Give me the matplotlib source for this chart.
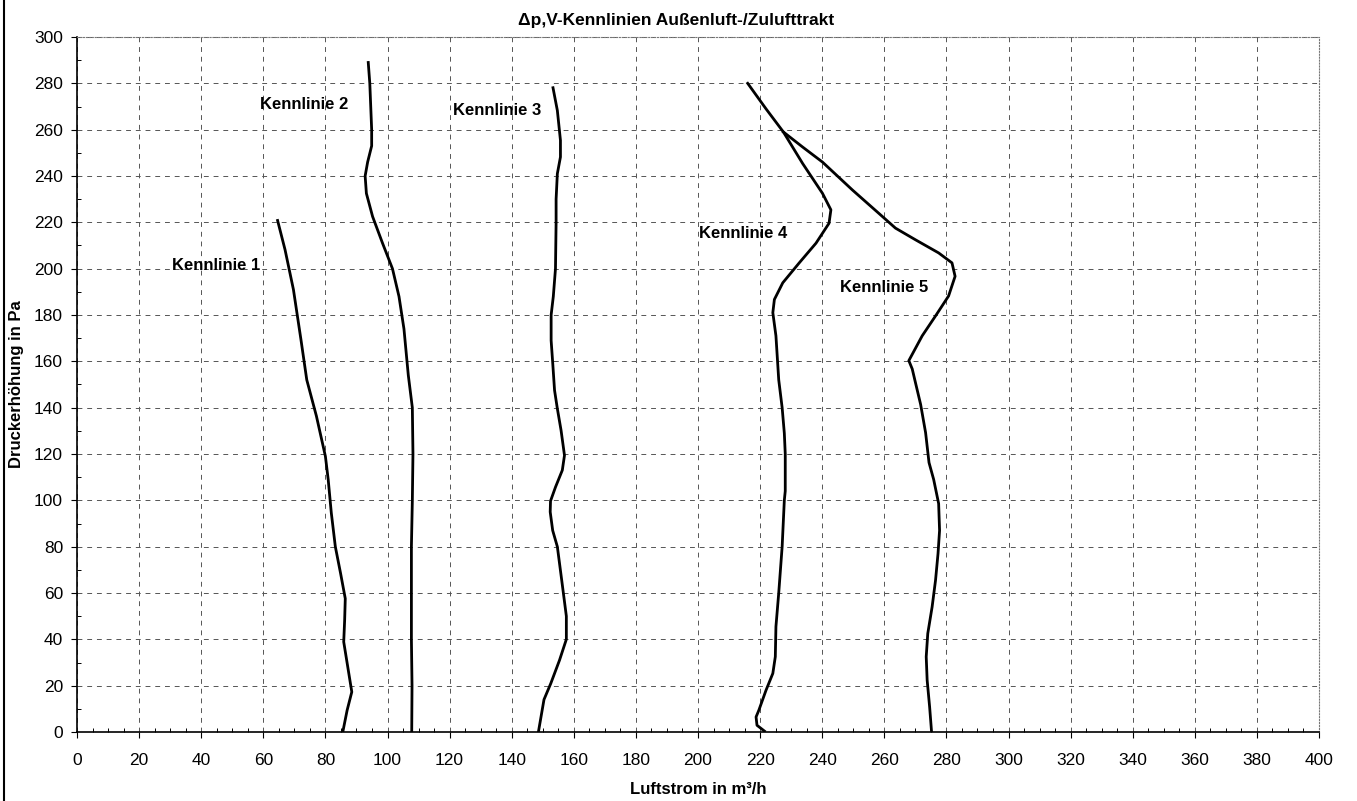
import numpy as np
import matplotlib.pyplot as plt
from matplotlib.lines import Line2D
from matplotlib.ticker import MultipleLocator

plt.rcParams['font.family'] = ['Liberation Sans', 'DejaVu Sans']

# Kennlinien (Luftstrom in m3/h, Druckerhoehung in Pa)
k1_v = [64.6, 67.0, 69.7, 72.1, 74.0, 77.1, 80.0, 80.9, 81.9, 83.2, 84.9, 86.4,
        86.2, 85.9, 87.2, 88.5, 87.0, 85.6]
k1_p = [220.8, 208.2, 191.0, 169.6, 152.0, 136.4, 119.0, 109.0, 94.6, 80.0, 68.4,
        57.6, 48.3, 38.9, 28.1, 17.3, 9.4, 0.0]

k2_v = [93.8, 94.3, 94.9, 94.9, 93.6, 92.8, 93.2, 95.2, 98.4, 101.6, 103.7, 105.3,
        106.7, 108.0, 108.2, 108.0, 107.7, 107.7, 107.7, 107.9, 107.8]
k2_p = [289.0, 280.0, 260.0, 253.0, 246.0, 240.0, 232.5, 222.5, 211.0, 200.0, 188.0,
        174.0, 154.0, 140.0, 120.0, 100.0, 80.0, 60.0, 40.0, 20.0, 0.0]

k3_v = [153.3, 154.7, 155.7, 155.7, 154.7, 154.3, 154.3, 154.1, 153.4, 152.7, 152.7,
        153.2, 153.8, 154.7, 155.9, 157.0, 156.3, 154.1, 152.5, 152.4, 153.2, 154.7,
        156.1, 157.6, 157.6, 155.4, 152.6, 150.4, 148.6]
k3_p = [278.1, 268.3, 255.4, 248.2, 241.0, 230.0, 220.0, 200.0, 188.0, 180.0, 169.0,
        159.5, 147.5, 139.6, 130.2, 119.4, 113.0, 105.7, 99.7, 95.0, 87.0, 80.0,
        65.6, 50.0, 40.0, 31.0, 21.0, 14.0, 0.0]

k4_v = [216.0, 221.9, 227.5, 233.7, 240.1, 242.8, 242.2, 238.0, 232.6, 227.3, 224.6,
        224.1, 225.1, 226.0, 227.1, 227.8, 228.1, 228.1, 227.8, 227.1, 226.0, 225.1,
        224.9, 224.1, 221.9, 219.6, 218.7, 219.0, 221.4]
k4_p = [280.0, 269.0, 259.0, 245.4, 232.5, 225.4, 219.6, 211.0, 202.5, 193.9, 186.7,
        181.0, 171.0, 152.0, 140.0, 129.0, 120.0, 104.0, 100.0, 80.0, 60.0, 45.5,
        32.5, 25.3, 18.0, 9.4, 6.5, 2.9, 0.4]

k5_v = [227.5, 233.7, 240.1, 249.7, 259.4, 263.6, 270.0, 277.5, 281.8, 282.8, 280.7,
        276.5, 272.2, 267.9, 269.0, 270.0, 271.7, 273.3, 274.4, 275.9, 277.5, 277.8,
        277.3, 276.5, 275.4, 274.0, 273.5, 273.8, 274.6, 275.2]
k5_p = [259.0, 252.5, 246.0, 234.0, 222.5, 217.5, 212.5, 206.8, 202.5, 196.7, 188.2,
        179.6, 171.0, 160.3, 156.7, 151.0, 141.4, 129.2, 116.3, 109.0, 98.6, 87.0,
        77.0, 65.5, 54.0, 42.5, 32.5, 22.4, 10.8, 0.4]

kurven = [(k1_v, k1_p), (k2_v, k2_p), (k3_v, k3_p), (k4_v, k4_p), (k5_v, k5_p)]

beschriftungen = ['Kennlinie 1', 'Kennlinie 2', 'Kennlinie 3', 'Kennlinie 4', 'Kennlinie 5']
beschr_v = [44.7, 73.3, 135.4, 214.4, 259.9]
beschr_p = [201.4, 271.0, 268.3, 215.0, 191.7]

fig = plt.figure(figsize=(13.57, 8.01), dpi=100)
ax = fig.add_axes([77 / 1357, 1 - 732 / 801, (1319 - 77) / 1357, (732 - 37) / 801])

for v, p in kurven:
    ax.plot(v, p, color='black', linewidth=2.0, solid_joinstyle='round')

for txt, v, p in zip(beschriftungen, beschr_v, beschr_p):
    ax.text(v, p, txt, ha='center', va='center', fontsize=12, fontweight='bold')

ax.set_xlim(0, 400)
ax.set_ylim(0, 300)
ax.xaxis.set_major_locator(MultipleLocator(20))
ax.xaxis.set_minor_locator(MultipleLocator(5))
ax.yaxis.set_major_locator(MultipleLocator(20))
ax.yaxis.set_minor_locator(MultipleLocator(10))

ax.grid(True, which='major', color='#555555', linestyle=(0, (5, 5)), linewidth=0.7)
ax.tick_params(which='major', direction='out', length=4, width=0.8, labelsize=12.5)
ax.tick_params(which='minor', direction='in', length=3, width=0.7)
ax.tick_params(axis='x', which='major', pad=11)
ax.tick_params(axis='y', which='major', pad=6)

for s in ['left', 'bottom']:
    ax.spines[s].set_color('black')
    ax.spines[s].set_linewidth(1.2)
for s in ['top', 'right']:
    ax.spines[s].set_color('#777777')
    ax.spines[s].set_linestyle(':')
    ax.spines[s].set_linewidth(0.8)

ax.set_xlabel('Luftstrom in m³/h', fontsize=12, fontweight='bold', labelpad=10)
ax.set_ylabel('Druckerhöhung in Pa', fontsize=12, fontweight='bold', labelpad=7)

fig.text(676 / 1357, 1 - 20 / 801, 'Δp,V-Kennlinien Außenluft-/Zulufttrakt',
         ha='center', va='center', fontsize=12.5, fontweight='bold')

# linker Rand des Diagrammbereichs
fig.add_artist(Line2D([4 / 1357, 4 / 1357], [0, 1], color='black', linewidth=1.5))

fig.savefig('out.png', dpi=100)
